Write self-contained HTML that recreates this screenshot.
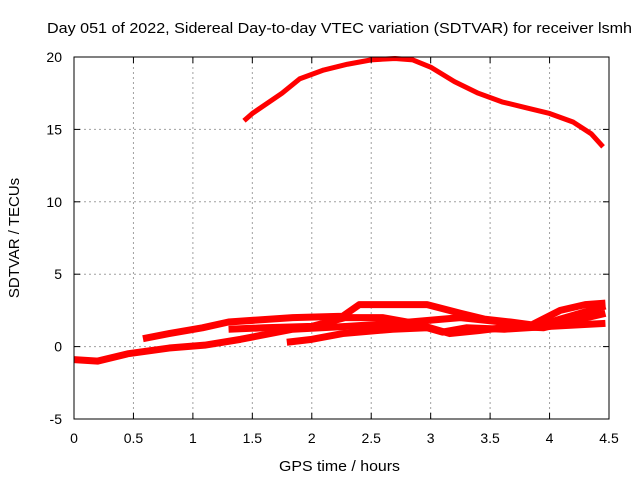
<!DOCTYPE html>
<html><head><meta charset="utf-8"><style>
body{margin:0;background:#fff}
svg{font-family:"Liberation Sans",sans-serif;font-size:14px}
</style></head><body>
<svg width="640" height="480" id="c">
<rect width="640" height="480" fill="#fff"/>
<text x="47" y="33" textLength="585" lengthAdjust="spacingAndGlyphs" font-size="15">Day 051 of 2022, Sidereal Day-to-day VTEC variation (SDTVAR) for receiver lsmh</text>
<text x="279" y="471" textLength="121" lengthAdjust="spacingAndGlyphs" font-size="15">GPS time / hours</text>
<text transform="translate(19,238) rotate(-90)" text-anchor="middle" font-size="15">SDTVAR / TECUs</text>
<g id="grid"></g><g id="series"></g>
<rect x="74" y="57" width="535" height="362" fill="none" stroke="#000" stroke-width="1"/>
<g id="ticks"></g>
</svg>
<script>
const xTicks=[0,0.5,1,1.5,2,2.5,3,3.5,4,4.5];
const yTicks=[-5,0,5,10,15,20];
const s1x=[1.43,1.5,1.75,1.9,2.1,2.3,2.5,2.7,2.85,3.0,3.2,3.4,3.6,3.8,4.0,4.2,4.35,4.45];
const s1y=[15.6,16.1,17.5,18.5,19.1,19.5,19.8,19.9,19.8,19.3,18.3,17.5,16.9,16.5,16.1,15.5,14.7,13.8];
const s2x=[0,0.2,0.45,0.8,1.1,1.4,1.84,2.3,2.68,3.25,3.6,3.9,4.09,4.3,4.47];
const s2y=[-0.9,-1.0,-0.5,-0.1,0.1,0.5,1.2,1.4,1.6,2.0,1.7,1.4,1.9,2.4,2.8];
const s3x=[0.58,0.8,1.08,1.3,1.84,2.26,2.4,2.7,2.97,3.25,3.45,3.67,3.85,4.09,4.3,4.47];
const s3y=[0.55,0.9,1.3,1.7,2.0,2.1,2.9,2.9,2.9,2.3,1.9,1.7,1.5,2.5,2.9,3.0];
const s4x=[1.79,2.0,2.26,2.68,2.97,3.1,3.3,3.62,4.0,4.47];
const s4y=[0.3,0.5,0.9,1.2,1.3,1.0,1.3,1.2,1.4,1.6];
const s5x=[1.3,1.6,2.0,2.28,2.6,2.87,3.16,3.4,3.7,3.95,4.47];
const s5y=[1.2,1.3,1.4,2.0,2.0,1.6,0.9,1.1,1.4,1.3,2.3];
const X=v=>74+v*535/4.5, Y=v=>57+(20-v)*362/25;
const ns="http://www.w3.org/2000/svg";
const g=document.getElementById('grid'),t=document.getElementById('ticks'),S=document.getElementById('series');
function mk(tag,at,p){const e=document.createElementNS(ns,tag);for(const k in at)e.setAttribute(k,at[k]);p.appendChild(e);return e;}
xTicks.forEach(v=>{
 if(v>0&&v<4.5){const l=mk('line',{x1:X(v),x2:X(v),y1:57,y2:419,stroke:'#a0a0a0','stroke-dasharray':'2,3'},g);
 
 }
 mk('line',{x1:X(v),x2:X(v),y1:419,y2:413,stroke:'#000'},t);mk('line',{x1:X(v),x2:X(v),y1:57,y2:63,stroke:'#000'},t);
 const tx=mk('text',{x:X(v),y:443,'text-anchor':'middle'},t);tx.textContent=v;
 
 
});
yTicks.forEach(v=>{
 if(v>-5&&v<20){const l=mk('line',{x1:74,x2:609,y1:Y(v),y2:Y(v),stroke:'#a0a0a0','stroke-dasharray':'2,3'},g);
 
 }
 mk('line',{x1:74,x2:80,y1:Y(v),y2:Y(v),stroke:'#000'},t);mk('line',{x1:603,x2:609,y1:Y(v),y2:Y(v),stroke:'#000'},t);
 const tx=mk('text',{x:62,y:Y(v)+5,'text-anchor':'end'},t);tx.textContent=v;
 
 
});
[[s1x,s1y],[s2x,s2y],[s3x,s3y],[s4x,s4y],[s5x,s5y]].forEach((s,i)=>{
 const pts=s[0].map((x,j)=>X(x)+','+Y(s[1][j])).join(' ');
 const p=mk('polyline',{points:pts,fill:'none',stroke:'#ff0000','stroke-width':i==0?5:7,'stroke-linejoin':'round','stroke-linecap':'butt'},S);
 
 
});
</script>
</body></html>
